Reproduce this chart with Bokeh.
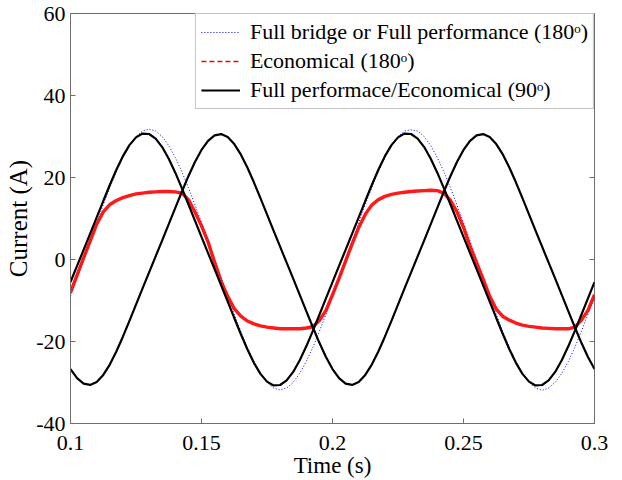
from math import pi
from bokeh.plotting import figure
from bokeh.models import (Range1d, FixedTicker, CustomJSTickFormatter,
                          Legend, LegendItem, ColumnDataSource)
from bokeh.embed import file_html
from bokeh.resources import INLINE

# ---------------- data ----------------
time_s = [0.1, 0.1025, 0.105, 0.1075, 0.11, 0.1125, 0.115, 0.1175, 0.12, 0.1225,
          0.125, 0.1275, 0.13, 0.1325, 0.135, 0.1375, 0.14, 0.1425, 0.145, 0.1475,
          0.15, 0.1525, 0.155, 0.1575, 0.16, 0.1625, 0.165, 0.1675, 0.17, 0.1725,
          0.175, 0.1775, 0.18, 0.1825, 0.185, 0.1875, 0.19, 0.1925, 0.195, 0.1975,
          0.2, 0.2025, 0.205, 0.2075, 0.21, 0.2125, 0.215, 0.2175, 0.22, 0.2225,
          0.225, 0.2275, 0.23, 0.2325, 0.235, 0.2375, 0.24, 0.2425, 0.245, 0.2475,
          0.25, 0.2525, 0.255, 0.2575, 0.26, 0.2625, 0.265, 0.2675, 0.27, 0.2725,
          0.275, 0.2775, 0.28, 0.2825, 0.285, 0.2875, 0.29, 0.2925, 0.295, 0.2975,
          0.3]

full_bridge_180 = [-8.98, -4.51, 0.0, 4.51, 8.98, 13.35, 17.53, 21.42, 24.88, 27.78,
                   29.97, 31.34, 31.8, 31.34, 29.97, 27.78, 24.88, 21.42, 17.53, 13.35,
                   8.98, 4.51, 0.0, -4.51, -8.98, -13.35, -17.53, -21.42, -24.88, -27.78,
                   -29.97, -31.34, -31.8, -31.34, -29.97, -27.78, -24.88, -21.42, -17.53, -13.35,
                   -8.98, -4.51, 0.0, 4.51, 8.98, 13.35, 17.53, 21.42, 24.88, 27.78,
                   29.97, 31.34, 31.6, 31.34, 29.97, 27.78, 24.88, 21.42, 17.53, 13.35,
                   8.98, 4.51, 0.0, -4.51, -8.98, -13.35, -17.53, -21.42, -24.88, -27.78,
                   -29.97, -31.34, -31.9, -31.34, -29.97, -27.78, -24.88, -21.42, -17.53, -13.35,
                   -9.2]

economical_180 = [-8.0, -3.8, 0.4, 4.5, 8.6, 11.6, 13.4, 14.4, 15.1, 15.6,
                  16.0, 16.2, 16.4, 16.5, 16.6, 16.6, 16.5, 16.2, 14.6, 11.6,
                  8.2, 4.3, -0.7, -5.4, -9.0, -12.0, -13.8, -15.0, -15.7, -16.2,
                  -16.5, -16.7, -16.9, -16.9, -16.9, -16.9, -16.7, -16.4, -14.9, -12.4,
                  -8.6, -4.6, -0.4, 3.8, 7.8, 11.0, 13.3, 14.6, 15.4, 15.9,
                  16.2, 16.4, 16.6, 16.7, 16.8, 16.9, 16.8, 16.2, 14.4, 11.6,
                  7.8, 3.2, -0.8, -4.8, -9.0, -12.1, -13.9, -14.8, -15.5, -16.0,
                  -16.3, -16.5, -16.7, -16.8, -16.9, -16.9, -16.9, -16.5, -14.8, -12.4,
                  -8.6]

full_econ_90_a = [-5.5, -1.57, 2.35, 6.29, 10.27, 14.26, 18.18, 21.9, 25.2, 27.9,
                  29.79, 30.72, 30.61, 29.48, 27.42, 24.58, 21.18, 17.41, 13.47, 9.47,
                  5.5, 1.57, -2.35, -6.29, -10.27, -14.26, -18.18, -21.9, -25.2, -27.9,
                  -29.79, -30.72, -30.61, -29.48, -27.42, -24.58, -21.18, -17.41, -13.47, -9.47,
                  -5.5, -1.57, 2.35, 6.29, 10.27, 14.26, 18.18, 21.9, 25.2, 27.9,
                  29.79, 30.72, 30.61, 29.48, 27.42, 24.58, 21.18, 17.41, 13.47, 9.47,
                  5.5, 1.57, -2.35, -6.29, -10.27, -14.26, -18.18, -21.9, -25.2, -27.9,
                  -29.79, -30.72, -30.61, -29.48, -27.42, -24.58, -21.18, -17.41, -13.47, -9.47,
                  -5.5]

full_econ_90_b = [-26.73, -28.95, -30.27, -30.58, -29.86, -28.16, -25.63, -22.45, -18.83, -14.96,
                  -11.0, -7.04, -3.12, 0.78, 4.68, 8.62, 12.59, 16.52, 20.32, 23.79,
                  26.73, 28.95, 30.27, 30.58, 29.86, 28.16, 25.63, 22.45, 18.83, 14.96,
                  11.0, 7.04, 3.12, -0.78, -4.68, -8.62, -12.59, -16.52, -20.32, -23.79,
                  -26.73, -28.95, -30.27, -30.58, -29.86, -28.16, -25.63, -22.45, -18.83, -14.96,
                  -11.0, -7.04, -3.12, 0.78, 4.68, 8.62, 12.59, 16.52, 20.32, 23.79,
                  26.73, 28.95, 30.27, 30.58, 29.86, 28.16, 25.63, 22.45, 18.83, 14.96,
                  11.0, 7.04, 3.12, -0.78, -4.68, -8.62, -12.59, -16.52, -20.32, -23.79,
                  -26.73]

x_ticks = [0.1, 0.15, 0.2, 0.25, 0.3]
y_ticks = [-40, -20, 0, 20, 40, 60]

series_labels = ["Full bridge or Full performance (180\u1d52)",
                 "Economical (180\u1d52)",
                 "Full performace/Economical (90\u1d52)"]

# ---------------- figure ----------------
FONT = "Liberation Serif"
AX = "#6e6e6e"

p = figure(width=622, height=480, output_backend="svg", toolbar_location=None,
           x_range=Range1d(x_ticks[0], x_ticks[-1]),
           y_range=Range1d(y_ticks[0], y_ticks[-1]),
           min_border_left=70, min_border_right=28, min_border_top=13,
           min_border_bottom=55)
p.background_fill_color = "white"
p.border_fill_color = "white"
p.outline_line_color = AX
p.outline_line_width = 1
p.xgrid.visible = False
p.ygrid.visible = False

xfmt = CustomJSTickFormatter(code="return String(Math.round(tick*100)/100);")
yfmt = CustomJSTickFormatter(code="return tick.toFixed(0);")

for ax, ticks, fmt in ((p.xaxis[0], x_ticks, xfmt), (p.yaxis[0], y_ticks, yfmt)):
    ax.ticker = FixedTicker(ticks=ticks)
    ax.formatter = fmt
    ax.axis_line_color = AX
    ax.major_tick_line_color = AX
    ax.major_tick_in = 5
    ax.major_tick_out = 0
    ax.minor_tick_line_color = None
    ax.major_label_text_font = FONT
    ax.major_label_text_font_size = "22px"
    ax.major_label_text_color = "black"
    ax.axis_label_text_font = FONT
    ax.axis_label_text_font_style = "normal"
    ax.axis_label_text_color = "black"

p.xaxis[0].axis_label = "Time (s)"
p.xaxis[0].axis_label_text_font_size = "23px"
p.xaxis[0].major_label_standoff = 12
p.xaxis[0].axis_label_standoff = 0

p.yaxis[0].axis_label = "Current (A)"
p.yaxis[0].axis_label_text_font_size = "25px"
p.yaxis[0].major_label_standoff = 5
p.yaxis[0].axis_label_standoff = 1

# inward ticks on the right-hand frame edge (box style)
p.ray(x=[x_ticks[-1]] * len(y_ticks), y=y_ticks, length=5, length_units="screen",
      angle=pi, line_color=AX, line_width=1)

# ---------------- curves ----------------
src = ColumnDataSource(dict(t=time_s, fb=full_bridge_180, ec=economical_180,
                            a=full_econ_90_a, b=full_econ_90_b))

r_blue = p.line("t", "fb", source=src, line_color="#0000ff", line_width=1,
                line_dash="1 2")
r_red = p.line("t", "ec", source=src, line_color="#ff0000", line_width=3.4,
               line_alpha=0.9)
r_red_leg = p.line(x=[float("nan")], y=[float("nan")], line_color="#ff0000",
                   line_width=1.6, line_dash="5 3")
r_b1 = p.line("t", "a", source=src, line_color="black", line_width=2.2)
r_b2 = p.line("t", "b", source=src, line_color="black", line_width=2.2)

legend = Legend(items=[LegendItem(label=series_labels[0], renderers=[r_blue]),
                       LegendItem(label=series_labels[1], renderers=[r_red_leg]),
                       LegendItem(label=series_labels[2], renderers=[r_b1])],
                location="top_right")
legend.margin = 0
legend.padding = 5
legend.spacing = 3
legend.glyph_width = 39
legend.glyph_height = 26
legend.label_height = 26
legend.label_standoff = 10
legend.label_text_font = FONT
legend.label_text_font_size = "22px"
legend.label_text_color = "black"
legend.border_line_color = "#8a8a8a"
legend.border_line_width = 1
legend.background_fill_color = "white"
legend.background_fill_alpha = 1.0
p.add_layout(legend)

open("out.html", "w").write(file_html(p, INLINE))
